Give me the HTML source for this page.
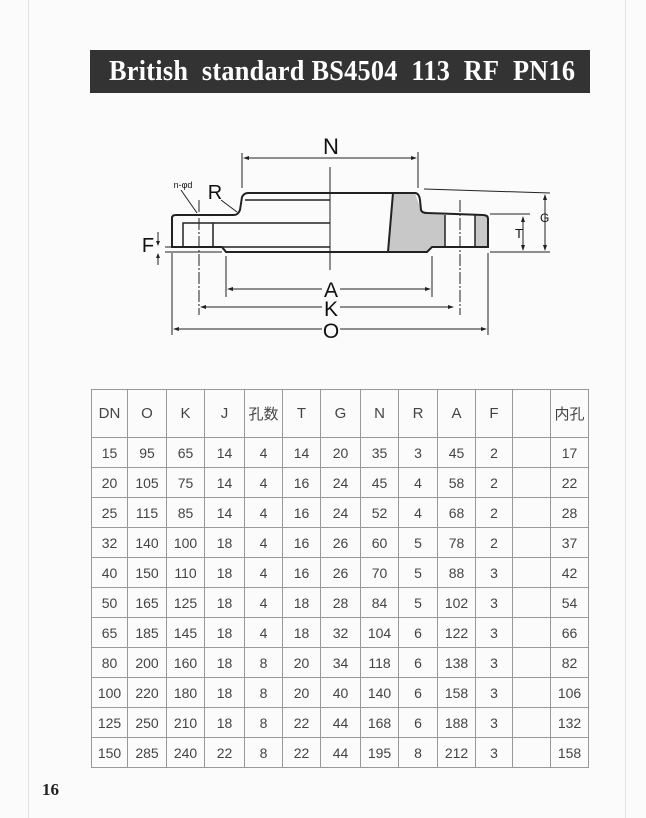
<!DOCTYPE html>
<html><head><meta charset="utf-8"><style>
body{margin:0;background:#fff;}
.pg{position:relative;width:646px;height:818px;background:#fbfbfb;overflow:hidden;font-family:"Liberation Sans","Noto Sans CJK SC",sans-serif;}
.bar{position:absolute;left:90px;top:50px;width:500px;height:43px;background:#333;color:#fff;font-family:"Liberation Serif",serif;font-weight:bold;font-size:29px;line-height:43px;white-space:nowrap;}
.bar span{position:absolute;left:19px;top:0;letter-spacing:0.3px;transform:scaleX(0.905);transform-origin:left;}
table{position:absolute;left:91px;top:389px;border-collapse:collapse;color:#444;font-size:14px;}
td{border:1px solid #999;text-align:center;height:29px;padding:0;}
tr.h td{height:47px;font-size:15px;}
table{border:1.5px solid #555;}
</style></head><body><div class="pg">
<div style="position:absolute;left:28px;top:0;width:1px;height:818px;background:#e4e4e4"></div>
<div style="position:absolute;left:625px;top:0;width:1px;height:818px;background:#e4e4e4"></div>
<div class="bar"><span>British&nbsp; standard BS4504&nbsp; 113&nbsp; RF&nbsp; PN16</span></div>
<svg style="position:absolute;left:0;top:0" width="646" height="380" viewBox="0 0 646 380">
<g fill="none" stroke="#222" stroke-width="1">
<polygon points="393,193 415,193 422,213 445,215 445,247 432,247 427,252 388,252" fill="#c8c8c8" stroke="none"/>
<rect x="475" y="215" width="13" height="32" fill="#c8c8c8" stroke="none"/>
<path d="M172,247 L172,218 Q172,215 176,215 L234,215 Q238,215 240,210 L242,197 Q244,193 248,193 L415,193 Q419,193 420,200 L421,210 Q422,213 427,213 L483,215 Q488,215 488,219 L488,247 L432,247 L427,252 L226,252 L222,247 Z" stroke-width="2"/>
<line x1="172" y1="247" x2="222" y2="247" stroke-width="2"/>
<line x1="245" y1="200" x2="330" y2="200" stroke-width="1.5"/>
<line x1="213" y1="223" x2="330" y2="223" stroke-width="1.5"/>
<line x1="223" y1="247" x2="330" y2="247" stroke-width="1.5"/>
<line x1="393" y1="193" x2="388" y2="252" stroke-width="2"/>
<rect x="183" y="223" width="30" height="24" stroke-width="1.5"/>
<line x1="445" y1="215" x2="445" y2="247" stroke-width="1.5"/>
<line x1="475" y1="215" x2="475" y2="247" stroke-width="1.5"/>
<line x1="330" y1="167" x2="330" y2="270"/>
<line x1="199" y1="200" x2="199" y2="315" stroke-dasharray="12,2,2,2"/>
<line x1="460" y1="200" x2="460" y2="315" stroke-dasharray="12,2,2,2"/>
<line x1="242" y1="153" x2="242" y2="188"/>
<line x1="418" y1="152" x2="418" y2="188"/>
<line x1="172" y1="253" x2="172" y2="335"/>
<line x1="488" y1="253" x2="488" y2="335"/>
<line x1="226" y1="256" x2="226" y2="297"/>
<line x1="432" y1="256" x2="432" y2="297"/>
<line x1="424" y1="189" x2="550" y2="193"/>
<line x1="490" y1="214" x2="530" y2="214"/>
<line x1="490" y1="252" x2="550" y2="252"/>
<line x1="165" y1="252" x2="222" y2="252"/>
<line x1="165" y1="247" x2="172" y2="247"/>
<line x1="245" y1="158" x2="415" y2="158"/>
<line x1="229" y1="289" x2="322" y2="289"/><line x1="340" y1="289" x2="429" y2="289"/>
<line x1="202" y1="307" x2="322" y2="307"/><line x1="340" y1="307" x2="452" y2="307"/>
<line x1="175" y1="329" x2="322" y2="329"/><line x1="340" y1="329" x2="485" y2="329"/>
<line x1="545" y1="195" x2="545" y2="250"/>
<line x1="523" y1="217" x2="523" y2="250"/>
<line x1="158" y1="232" x2="158" y2="245"/><line x1="158" y1="256" x2="158" y2="265"/>
<line x1="181" y1="190" x2="197" y2="213"/>
<line x1="221" y1="200" x2="237" y2="212"/>
</g>
<g fill="#222">
<polygon points="243,158 249,156 249,160"/><polygon points="417,158 411,156 411,160"/>
<polygon points="227,289 233,287 233,291"/><polygon points="431,289 425,287 425,291"/>
<polygon points="200,307 206,305 206,309"/><polygon points="454,307 448,305 448,309"/>
<polygon points="173,329 179,327 179,331"/><polygon points="487,329 481,327 481,331"/>
<polygon points="545,194 543,200 547,200"/><polygon points="545,251 543,245 547,245"/>
<polygon points="523,216 521,222 525,222"/><polygon points="523,251 521,245 525,245"/>
<polygon points="158,246 156,241 160,241"/><polygon points="158,253 156,258 160,258"/>
</g>
<g font-family="Liberation Sans,sans-serif" fill="#111" text-anchor="middle">
<text x="331" y="154" font-size="22">N</text>
<text x="331" y="297" font-size="21">A</text>
<text x="331" y="316" font-size="21">K</text>
<text x="331" y="338" font-size="21">O</text>
<text x="215" y="199" font-size="20">R</text>
<text x="183" y="188" font-size="9">n-φd</text>
<text x="148" y="252" font-size="20">F</text>
<text x="519" y="238" font-size="13">T</text>
<text x="540" y="222" font-size="12" text-anchor="start">G</text>
</g>
</svg>
<table>
<colgroup><col style="width:36px"><col style="width:39px"><col style="width:38px"><col style="width:40px"><col style="width:38px"><col style="width:38px"><col style="width:40px"><col style="width:38px"><col style="width:39px"><col style="width:38px"><col style="width:37px"><col style="width:38px"><col style="width:38px"></colgroup>
<tr class="h"><td>DN</td><td>O</td><td>K</td><td>J</td><td>孔数</td><td>T</td><td>G</td><td>N</td><td>R</td><td>A</td><td>F</td><td></td><td>内孔</td></tr>
<tr><td>15</td><td>95</td><td>65</td><td>14</td><td>4</td><td>14</td><td>20</td><td>35</td><td>3</td><td>45</td><td>2</td><td></td><td>17</td></tr>
<tr><td>20</td><td>105</td><td>75</td><td>14</td><td>4</td><td>16</td><td>24</td><td>45</td><td>4</td><td>58</td><td>2</td><td></td><td>22</td></tr>
<tr><td>25</td><td>115</td><td>85</td><td>14</td><td>4</td><td>16</td><td>24</td><td>52</td><td>4</td><td>68</td><td>2</td><td></td><td>28</td></tr>
<tr><td>32</td><td>140</td><td>100</td><td>18</td><td>4</td><td>16</td><td>26</td><td>60</td><td>5</td><td>78</td><td>2</td><td></td><td>37</td></tr>
<tr><td>40</td><td>150</td><td>110</td><td>18</td><td>4</td><td>16</td><td>26</td><td>70</td><td>5</td><td>88</td><td>3</td><td></td><td>42</td></tr>
<tr><td>50</td><td>165</td><td>125</td><td>18</td><td>4</td><td>18</td><td>28</td><td>84</td><td>5</td><td>102</td><td>3</td><td></td><td>54</td></tr>
<tr><td>65</td><td>185</td><td>145</td><td>18</td><td>4</td><td>18</td><td>32</td><td>104</td><td>6</td><td>122</td><td>3</td><td></td><td>66</td></tr>
<tr><td>80</td><td>200</td><td>160</td><td>18</td><td>8</td><td>20</td><td>34</td><td>118</td><td>6</td><td>138</td><td>3</td><td></td><td>82</td></tr>
<tr><td>100</td><td>220</td><td>180</td><td>18</td><td>8</td><td>20</td><td>40</td><td>140</td><td>6</td><td>158</td><td>3</td><td></td><td>106</td></tr>
<tr><td>125</td><td>250</td><td>210</td><td>18</td><td>8</td><td>22</td><td>44</td><td>168</td><td>6</td><td>188</td><td>3</td><td></td><td>132</td></tr>
<tr><td>150</td><td>285</td><td>240</td><td>22</td><td>8</td><td>22</td><td>44</td><td>195</td><td>8</td><td>212</td><td>3</td><td></td><td>158</td></tr>
</table>
<div style="position:absolute;left:42px;top:780px;font-family:'Liberation Serif',serif;font-weight:bold;font-size:17px;color:#222">16</div>
</div></body></html>
